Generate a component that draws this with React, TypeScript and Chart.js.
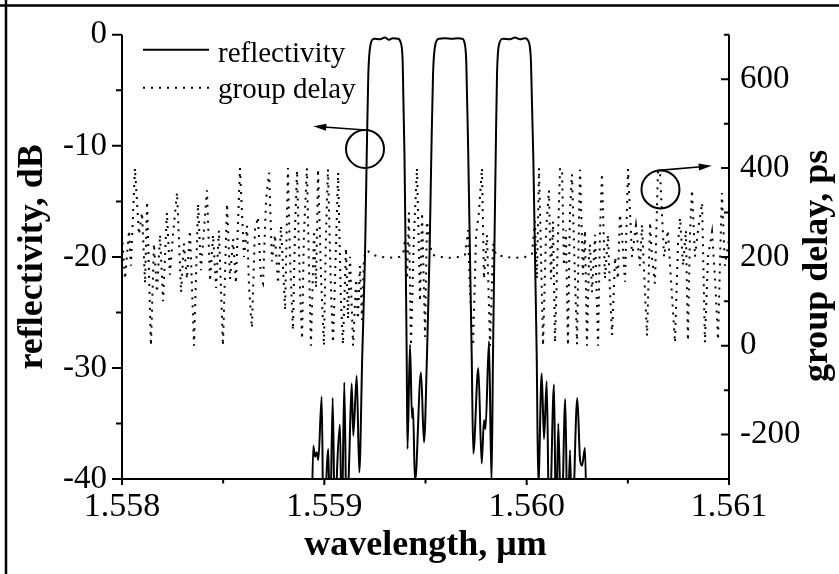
import React, { useEffect, useRef } from 'react';
import { Chart, registerables } from 'chart.js';

Chart.register(...registerables);

// ---------- axis ticks ----------
const wavelengthTicks = [1.558, 1.559, 1.56, 1.561];
const wavelengthMinorTicks = [1.5585, 1.5595, 1.5605];
const reflectivityTicks = [-40, -30, -20, -10, 0];
const reflectivityMinorTicks = [-35, -25, -15, -5];
const delayTicks = [-200, 0, 200, 400, 600];
const delayMinorTicks = [-100, 100, 300, 500, 700];

// ---------- reflectivity (dB) ----------
const reflWavelength = [
  1.5589366, 1.5589455, 1.5589539, 1.5589623, 1.5589702, 1.558987, 1.5589959, 1.5590196, 1.559028, 1.5590413,
  1.5590527, 1.5590641, 1.5590774, 1.5590858, 1.5590987, 1.5591105, 1.5591234, 1.5591352, 1.5591431, 1.55916,
  1.5591728,
  1.5591875, 1.559201, 1.5592094, 1.5592173, 1.5592282, 1.5592455,
  1.5592751, 1.5592998, 1.5593196, 1.5593394, 1.5593641,
  1.5593774, 1.5593873, 1.5593962, 1.5594021, 1.5594071, 1.559411,
  1.5594234, 1.5594333, 1.5594382, 1.5594481, 1.5594777, 1.5594926,
  1.5595074, 1.5595198, 1.5595286, 1.5595371, 1.5595484, 1.5595667,
  1.5595964, 1.559631, 1.5596606, 1.5596804,
  1.5596927, 1.5597016, 1.5597115, 1.5597199, 1.5597283, 1.5597362,
  1.559761, 1.5597777, 1.5597891, 1.5597965, 1.5598138, 1.5598262,
  1.5598336, 1.55984, 1.5598469, 1.5598534, 1.5598632, 1.559883,
  1.5599176, 1.5599423, 1.559967, 1.5599917,
  1.5600115, 1.5600214, 1.5600328, 1.5600412, 1.5600496, 1.5600575,
  1.5600743, 1.5600856, 1.560099, 1.5601118, 1.5601351, 1.560145, 1.5601563, 1.5601712, 1.5601909, 1.5602018,
  1.5602142, 1.560224, 1.5602502, 1.5602636, 1.5602735, 1.5602883, 1.5602967,
];
const reflectivityDb = [
  -45, -37.0, -38.0, -37.6, -38.3, -32.6, -45, -37.3, -45, -32.7,
  -45, -38.6, -35.1, -45, -31.3, -45, -38.0, -31.4, -36.1, -30.7,
  -39.4,
  -28.8, -19.9, -11, -3.6, -0.9, -0.35,
  -0.4, -0.25, -0.45, -0.3, -0.35,
  -0.7, -2.5, -11, -20, -29, -37.3,
  -27.9, -34.5, -33.6, -40.3, -30.4, -36.7,
  -28.8, -19.9, -11, -3.6, -0.9, -0.35,
  -0.3, -0.35, -0.3, -0.35,
  -0.7, -2.5, -11, -19.9, -28.8, -37.7,
  -30, -38.6, -34.7, -35.5, -27.6, -40.3,
  -28.8, -19.9, -11, -3.6, -0.9, -0.35,
  -0.4, -0.25, -0.4, -0.3,
  -0.7, -2.5, -11, -19.9, -28.8, -40.5,
  -30.5, -36.4, -31.2, -45, -31.5, -45, -35.0, -45, -32.8, -45,
  -37.4, -45, -32.7, -38.2, -38.8, -37.2, -45,
];

// ---------- group delay (ps) ----------
const delayWavelength = [
  1.558000, 1.558015, 1.558035, 1.558044, 1.558064, 1.558084, 1.558099, 1.558114, 1.558124, 1.558143,
  1.558158, 1.558173, 1.558188, 1.558203, 1.558222, 1.558237, 1.558252, 1.558272, 1.558292, 1.558306,
  1.558321, 1.558336, 1.558356, 1.558376, 1.558390, 1.558405, 1.558420, 1.558435, 1.558450, 1.558465,
  1.558479, 1.558499, 1.558519, 1.558534, 1.558549, 1.558563, 1.558583, 1.558603, 1.558618, 1.558628,
  1.558642, 1.558657, 1.558672, 1.558687, 1.558697, 1.558712, 1.558727, 1.558741, 1.558756, 1.558771,
  1.558786, 1.558806, 1.558820, 1.558830, 1.558845, 1.558855, 1.558865, 1.558880, 1.558890, 1.558899,
  1.558914, 1.558924, 1.558934, 1.558949, 1.558959, 1.558969, 1.558984, 1.558998, 1.559008, 1.559018,
  1.559033, 1.559043, 1.559058, 1.559068, 1.559082, 1.559092, 1.559107, 1.559117, 1.559127, 1.559142,
  1.559157, 1.559166, 1.559176, 1.559186, 1.559196, 1.559211, 1.559236, 1.559275, 1.559325, 1.559374,
  1.559389, 1.559399, 1.559409, 1.559418, 1.559428, 1.559443, 1.559458, 1.559473, 1.559483, 1.559498,
  1.559507, 1.559522, 1.559532, 1.559572, 1.559621, 1.559671, 1.559695, 1.559710, 1.559720, 1.559735,
  1.559750, 1.559764, 1.559779, 1.559789, 1.559804, 1.559819, 1.559834, 1.559848, 1.559893, 1.559942,
  1.559992, 1.560026, 1.560041, 1.560051, 1.560061, 1.560071, 1.560081, 1.560096, 1.560110, 1.560120,
  1.560130, 1.560140, 1.560155, 1.560165, 1.560175, 1.560184, 1.560194, 1.560204, 1.560214, 1.560224,
  1.560239, 1.560249, 1.560259, 1.560264, 1.560278, 1.560288, 1.560298, 1.560308, 1.560313, 1.560323,
  1.560338, 1.560353, 1.560362, 1.560372, 1.560387, 1.560402, 1.560412, 1.560422, 1.560437, 1.560451,
  1.560461, 1.560471, 1.560486, 1.560501, 1.560521, 1.560540, 1.560560, 1.560570, 1.560585, 1.560595,
  1.560610, 1.560619, 1.560634, 1.560649, 1.560659, 1.560679, 1.560698, 1.560713, 1.560733, 1.560748,
  1.560758, 1.560773, 1.560787, 1.560797, 1.560807, 1.560817, 1.560832, 1.560847, 1.560867, 1.560881,
  1.560896, 1.560916, 1.560931, 1.560946, 1.560956, 1.560965, 1.560980, 1.561000,
];
const groupDelayPs = [
  250, 150, 260, 180, 400, 250, 300, 140, 325, 0,
  230, 120, 250, 100, 300, 160, 250, 345, 120, 230,
  150, 260, 0, 320, 170, 260, 350, 145, 250, 130,
  260, 0, 320, 150, 240, 140, 400, 200, 270, 130,
  40, 260, 290, 150, 140, 330, 390, 190, 250, 140,
  270, 80, 400, 200, 35, 260, 395, 120, 15, 250,
  400, 180, 0, 260, 130, 398, 150, 0, 250, 398,
  120, 7, 230, 390, 100, 3, 220, 60, 200, 0,
  150, 60, 180, 58, 200, 215, 205, 200, 198, 200,
  205, 240, 150, 300, 0, 250, 400, 100, 300, 20,
  280, 230, 205, 200, 198, 200, 205, 260, 120, 0,
  250, 300, 400, 150, 250, 0, 230, 205, 200, 198,
  200, 205, 280, 150, 400, 200, 0, 260, 350, 150,
  280, 7, 250, 400, 398, 180, 260, 0, 300, 386,
  150, 3, 300, 396, 160, 260, 0, 200, 229, 120,
  250, 0, 250, 388, 150, 250, 120, 24, 200, 150,
  296, 250, 144, 398, 200, 270, 180, 273, 120, 22,
  278, 200, 140, 395, 391, 200, 260, 150, 7, 230,
  288, 180, 260, 11, 250, 351, 200, 260, 322, 7,
  200, 256, 150, 13, 200, 344, 180, 240,
];

// ---------- annotations (circle centre -> arrow tip), in data units ----------
const circleReflectivity = { x: 1.559201, y: -10.28 };
const arrowReflectivityTip = { x: 1.5589455, y: -8.24 };
const circleDelay = { x: 1.5606614, y: 352 };
const arrowDelayTip = { x: 1.5609145, y: 405 };

const legendLabels = ['reflectivity', 'group delay'];
const xTitle = 'wavelength, \u03bcm';
const yTitle = 'reflectivity, dB';
const y2Title = 'group delay, ps';

const SERIF = "'Liberation Serif', 'Times New Roman', Times, serif";
const DOT_DASH = [2, 6];

function drawArrow(ctx: CanvasRenderingContext2D, x0: number, y0: number, x1: number, y1: number) {
  const ang = Math.atan2(y1 - y0, x1 - x0);
  const L = 13;
  const W = 3.5;
  const c = Math.cos(ang);
  const s = Math.sin(ang);
  ctx.beginPath();
  ctx.moveTo(x0, y0);
  ctx.lineTo(x1 - L * 0.8 * c, y1 - L * 0.8 * s);
  ctx.stroke();
  ctx.beginPath();
  ctx.moveTo(x1, y1);
  ctx.lineTo(x1 - L * c + W * s, y1 - L * s - W * c);
  ctx.lineTo(x1 - L * c - W * s, y1 - L * s + W * c);
  ctx.closePath();
  ctx.fill();
}

const overlayPlugin = {
  id: 'overlay',
  afterDraw(chart: any) {
    const { ctx, chartArea: a, scales } = chart;
    const xs = scales.x;
    const yl = scales.y;
    const yr = scales.y2;
    ctx.save();
    ctx.strokeStyle = '#000';
    ctx.fillStyle = '#000';
    ctx.setLineDash([]);

    // figure frame (top & left)
    ctx.lineWidth = 2.5;
    ctx.beginPath();
    ctx.moveTo(0, 5.5);
    ctx.lineTo(chart.width, 5.5);
    ctx.moveTo(6, 0);
    ctx.lineTo(6, chart.height);
    ctx.stroke();

    // axis lines
    ctx.lineWidth = 2;
    ctx.beginPath();
    ctx.moveTo(a.left, a.top);
    ctx.lineTo(a.left, a.bottom);
    ctx.lineTo(a.right, a.bottom);
    ctx.lineTo(a.right, a.top);
    ctx.stroke();

    // ticks
    ctx.lineWidth = 2;
    ctx.beginPath();
    reflectivityTicks.forEach((v) => {
      const y = yl.getPixelForValue(v);
      ctx.moveTo(a.left - 10, y);
      ctx.lineTo(a.left, y);
    });
    reflectivityMinorTicks.forEach((v) => {
      const y = yl.getPixelForValue(v);
      ctx.moveTo(a.left - 6, y);
      ctx.lineTo(a.left, y);
    });
    delayTicks.forEach((v) => {
      const y = yr.getPixelForValue(v);
      ctx.moveTo(a.right - 8, y);
      ctx.lineTo(a.right, y);
    });
    delayMinorTicks.forEach((v) => {
      const y = yr.getPixelForValue(v);
      ctx.moveTo(a.right - 5, y);
      ctx.lineTo(a.right, y);
    });
    wavelengthTicks.forEach((v) => {
      const x = xs.getPixelForValue(v);
      ctx.moveTo(x, a.bottom);
      ctx.lineTo(x, a.bottom + 6);
    });
    wavelengthMinorTicks.forEach((v) => {
      const x = xs.getPixelForValue(v);
      ctx.moveTo(x, a.bottom);
      ctx.lineTo(x, a.bottom + 4.5);
    });
    ctx.stroke();

    // axis titles
    ctx.font = `bold 36px ${SERIF}`;
    ctx.textAlign = 'center';
    ctx.textBaseline = 'alphabetic';
    ctx.fillText(xTitle, (a.left + a.right) / 2, a.bottom + 76);
    ctx.save();
    ctx.translate(42, (a.top + a.bottom) / 2);
    ctx.rotate(-Math.PI / 2);
    ctx.fillText(yTitle, 0, 0);
    ctx.restore();
    ctx.save();
    ctx.translate(a.right + 98, (a.top + a.bottom) / 2 + 9);
    ctx.rotate(-Math.PI / 2);
    ctx.fillText(y2Title, 0, 0);
    ctx.restore();

    // legend
    const lx0 = a.left + 21;
    const lx1 = a.left + 87;
    ctx.lineWidth = 2;
    ctx.beginPath();
    ctx.moveTo(lx0, a.top + 15);
    ctx.lineTo(lx1, a.top + 15);
    ctx.stroke();
    ctx.setLineDash(DOT_DASH);
    ctx.beginPath();
    ctx.moveTo(lx0, a.top + 53);
    ctx.lineTo(lx1, a.top + 53);
    ctx.stroke();
    ctx.setLineDash([]);
    ctx.font = `29px ${SERIF}`;
    ctx.textAlign = 'left';
    ctx.fillText(legendLabels[0], a.left + 96, a.top + 27);
    ctx.fillText(legendLabels[1], a.left + 96, a.top + 63);

    // circles and arrows
    const R = 19;
    ctx.lineWidth = 2;
    const c1x = xs.getPixelForValue(circleReflectivity.x);
    const c1y = yl.getPixelForValue(circleReflectivity.y);
    ctx.beginPath();
    ctx.arc(c1x, c1y, R, 0, Math.PI * 2);
    ctx.stroke();
    const c2x = xs.getPixelForValue(circleDelay.x);
    const c2y = yr.getPixelForValue(circleDelay.y);
    ctx.beginPath();
    ctx.arc(c2x, c2y, R, 0, Math.PI * 2);
    ctx.stroke();
    ctx.lineWidth = 1.6;
    drawArrow(ctx, c1x, c1y - R, xs.getPixelForValue(arrowReflectivityTip.x), yl.getPixelForValue(arrowReflectivityTip.y));
    drawArrow(ctx, c2x - 2, c2y - R, xs.getPixelForValue(arrowDelayTip.x), yr.getPixelForValue(arrowDelayTip.y));

    ctx.restore();
  },
};

export default function App() {
  const canvasRef = useRef<HTMLCanvasElement | null>(null);

  useEffect(() => {
    document.body.style.margin = '0';
    const canvas = canvasRef.current;
    if (!canvas) return;

    const reflData = reflWavelength.map((w, i) => ({ x: w, y: reflectivityDb[i] }));
    const delayData = delayWavelength.map((w, i) => ({ x: w, y: groupDelayPs[i] }));

    const tickFont = { family: SERIF, size: 33 };

    const chart = new Chart(canvas, {
      type: 'line',
      data: {
        datasets: [
          {
            label: legendLabels[0],
            data: reflData,
            yAxisID: 'y',
            borderColor: '#000',
            borderWidth: 2,
            pointRadius: 0,
            cubicInterpolationMode: 'monotone',
            fill: false,
            clip: 0,
          },
          {
            label: legendLabels[1],
            data: delayData,
            yAxisID: 'y2',
            borderColor: '#000',
            borderWidth: 2,
            borderDash: DOT_DASH,
            pointRadius: 0,
            tension: 0,
            fill: false,
            clip: 0,
          },
        ],
      },
      options: {
        responsive: false,
        animation: false,
        events: [],
        layout: { padding: { top: 29, left: 0, right: 0, bottom: 0 } },
        plugins: {
          legend: { display: false },
          tooltip: { enabled: false },
          title: { display: false },
        },
        scales: {
          x: {
            type: 'linear',
            position: 'bottom',
            min: 1.558,
            max: 1.561,
            afterBuildTicks: (s: any) => {
              s.ticks = wavelengthTicks.map((v) => ({ value: v }));
            },
            afterFit: (s: any) => {
              s.height = 95;
            },
            ticks: {
              callback: (v: any) => Number(v).toFixed(3),
              font: { family: SERIF, size: 34 },
              color: '#000',
              padding: 8,
              maxRotation: 0,
              autoSkip: false,
            },
            grid: { display: false, drawTicks: false },
            border: { display: false },
          },
          y: {
            type: 'linear',
            position: 'left',
            min: -40,
            max: 0,
            afterBuildTicks: (s: any) => {
              s.ticks = reflectivityTicks.map((v) => ({ value: v }));
            },
            afterFit: (s: any) => {
              s.width = 122;
            },
            ticks: { font: tickFont, color: '#000', padding: 15 },
            grid: { display: false, drawTicks: false },
            border: { display: false },
          },
          y2: {
            type: 'linear',
            position: 'right',
            min: -300,
            max: 700,
            afterBuildTicks: (s: any) => {
              s.ticks = delayTicks.map((v) => ({ value: v }));
            },
            afterFit: (s: any) => {
              s.width = 110;
            },
            ticks: { font: tickFont, color: '#000', padding: 11 },
            grid: { display: false, drawTicks: false },
            border: { display: false },
          },
        },
      } as any,
      plugins: [overlayPlugin],
    });

    return () => chart.destroy();
  }, []);

  return (
    <div style={{ width: 839, height: 574 }}>
      <canvas ref={canvasRef} width={839} height={574} style={{ display: 'block', width: 839, height: 574 }} />
    </div>
  );
}
